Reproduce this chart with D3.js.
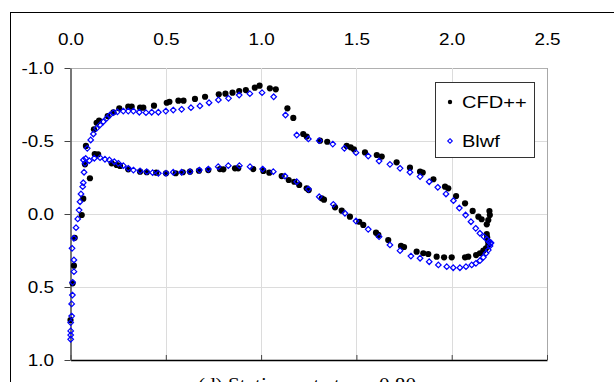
<!DOCTYPE html>
<html>
<head>
<meta charset="utf-8">
<script src="https://cdn.jsdelivr.net/npm/d3@7"></script>
<style>
  body { margin: 0; background: #fff; }
  svg { display: block; }
</style>
</head>
<body>
<div id="chart"></div>
<script>
// chordwise station x vs pressure coefficient Cp
const xTicks = [0, 0.5, 1.0, 1.5, 2.0, 2.5];
const yTicks = [-1.0, -0.5, 0.0, 0.5, 1.0];
const seriesNames = ["CFD++", "Blwf"];
const caption = "(d) Station cut at \u03b7 = 0.80";

const cfdLeading = [[0.000, 0.726], [0.011, 0.475], [0.018, 0.354], [0.022, 0.163], [0.059, 0.007],
  [0.067, -0.105], [0.102, -0.245], [0.076, -0.340]];
const cfdUpper = [[0.081, -0.466], [0.123, -0.580], [0.137, -0.625], [0.150, -0.640], [0.195, -0.671],
  [0.225, -0.697], [0.256, -0.724], [0.303, -0.735], [0.321, -0.735], [0.365, -0.728], [0.382, -0.728],
  [0.438, -0.742], [0.505, -0.762], [0.519, -0.769], [0.566, -0.776], [0.593, -0.776], [0.653, -0.788],
  [0.706, -0.803], [0.778, -0.820], [0.813, -0.824], [0.850, -0.831], [0.885, -0.842], [0.920, -0.849],
  [0.967, -0.865], [0.992, -0.879], [1.046, -0.861], [1.077, -0.854], [1.138, -0.724], [1.169, -0.658],
  [1.221, -0.548], [1.239, -0.530], [1.309, -0.502], [1.347, -0.495], [1.449, -0.466], [1.470, -0.457],
  [1.487, -0.443], [1.545, -0.422], [1.607, -0.404], [1.633, -0.393], [1.711, -0.354], [1.781, -0.317],
  [1.834, -0.290], [1.848, -0.284], [1.904, -0.238], [1.965, -0.187], [1.982, -0.176], [2.023, -0.123],
  [2.070, -0.073], [2.110, -0.021], [2.140, 0.018], [2.157, 0.036], [2.184, 0.071], [2.192, 0.041],
  [2.200, 0.007], [2.198, -0.020]];
const cfdLower = [[0.127, -0.411], [0.145, -0.409], [0.216, -0.347], [0.242, -0.336], [0.260, -0.329],
  [0.303, -0.306], [0.365, -0.290], [0.400, -0.286], [0.450, -0.283], [0.501, -0.279], [0.552, -0.279],
  [0.589, -0.286], [0.627, -0.290], [0.674, -0.297], [0.723, -0.301], [0.784, -0.308], [0.802, -0.306],
  [0.863, -0.313], [0.880, -0.313], [0.959, -0.308], [1.012, -0.295], [1.043, -0.283], [1.108, -0.260],
  [1.145, -0.233], [1.174, -0.221], [1.200, -0.199], [1.239, -0.176], [1.250, -0.164], [1.318, -0.108],
  [1.330, -0.098], [1.388, -0.046], [1.423, -0.023], [1.466, 0.018], [1.515, 0.053], [1.536, 0.075],
  [1.603, 0.128], [1.615, 0.143], [1.667, 0.178], [1.734, 0.219], [1.750, 0.226], [1.816, 0.258],
  [1.851, 0.269], [1.877, 0.274], [1.921, 0.292], [1.960, 0.297], [2.000, 0.297], [2.070, 0.297],
  [2.087, 0.292], [2.128, 0.281], [2.148, 0.269], [2.166, 0.251], [2.180, 0.235], [2.192, 0.212],
  [2.190, 0.185], [2.186, 0.160], [2.184, 0.137]];

const blwfLeading = [[0.001, 0.858], [0.001, 0.829], [0.001, 0.801], [0.001, 0.744], [0.006, 0.699],
  [0.006, 0.616], [0.010, 0.555], [0.011, 0.468], [0.018, 0.395], [0.018, 0.315], [0.008, 0.235],
  [0.018, 0.166], [0.029, 0.094], [0.038, 0.034], [0.045, -0.027], [0.050, -0.084], [0.055, -0.137],
  [0.064, -0.187], [0.067, -0.214], [0.071, -0.286], [0.076, -0.347], [0.068, -0.370], [0.080, -0.380]];
const blwfUpper = [[0.088, -0.450], [0.106, -0.507], [0.120, -0.548], [0.137, -0.587], [0.155, -0.610],
  [0.172, -0.632], [0.190, -0.655], [0.207, -0.678], [0.225, -0.694], [0.246, -0.700], [0.277, -0.705],
  [0.303, -0.705], [0.330, -0.705], [0.361, -0.697], [0.396, -0.694], [0.426, -0.697], [0.461, -0.697],
  [0.500, -0.705], [0.539, -0.712], [0.583, -0.717], [0.632, -0.728], [0.679, -0.740], [0.727, -0.762],
  [0.776, -0.781], [0.829, -0.792], [0.885, -0.815], [0.941, -0.824], [1.005, -0.831], [1.066, -0.803],
  [1.128, -0.678], [1.187, -0.541], [1.248, -0.514], [1.305, -0.502], [1.376, -0.479], [1.437, -0.450],
  [1.498, -0.420], [1.562, -0.397], [1.619, -0.363], [1.676, -0.340], [1.729, -0.313], [1.781, -0.286],
  [1.834, -0.256], [1.882, -0.221], [1.927, -0.183], [1.970, -0.137], [2.009, -0.091], [2.040, -0.041],
  [2.073, 0.007], [2.101, 0.053], [2.126, 0.098], [2.148, 0.132], [2.169, 0.155], [2.184, 0.173],
  [2.196, 0.190], [2.205, 0.201]];
const blwfLower = [[0.099, -0.365], [0.125, -0.382], [0.155, -0.386], [0.181, -0.375], [0.204, -0.370],
  [0.230, -0.358], [0.251, -0.347], [0.277, -0.331], [0.303, -0.313], [0.330, -0.301], [0.365, -0.295],
  [0.400, -0.290], [0.431, -0.283], [0.461, -0.279], [0.501, -0.279], [0.539, -0.286], [0.583, -0.286],
  [0.627, -0.290], [0.676, -0.301], [0.723, -0.308], [0.775, -0.324], [0.828, -0.331], [0.886, -0.331],
  [0.942, -0.324], [1.008, -0.308], [1.064, -0.290], [1.125, -0.260], [1.187, -0.221], [1.248, -0.171],
  [1.305, -0.118], [1.379, -0.066], [1.440, -0.005], [1.498, 0.048], [1.562, 0.105], [1.619, 0.155],
  [1.676, 0.212], [1.729, 0.251], [1.786, 0.288], [1.834, 0.303], [1.882, 0.327], [1.930, 0.349],
  [1.974, 0.361], [2.008, 0.368], [2.043, 0.368], [2.075, 0.361], [2.105, 0.349], [2.127, 0.338],
  [2.148, 0.320], [2.166, 0.297], [2.180, 0.269], [2.192, 0.247], [2.201, 0.219], [2.206, 0.197]];

const width = 614, height = 382;
const stretch = 1.18; // the original text is drawn a bit wide
const fmt = d => d.toFixed(1); // plain hyphen for negatives, like the original

const svg = d3.select("#chart").append("svg")
  .attr("width", width)
  .attr("height", height)
  .style("font-family", "'Liberation Sans', Arial, sans-serif");

const x = d3.scaleLinear().domain([0, 2.5]).range([70.5, 547]);
const y = d3.scaleLinear().domain([-1, 1]).range([68, 360]);

// outer chart frame, runs off the right and bottom
svg.append("rect")
  .attr("x", 10.5).attr("y", 12.5)
  .attr("width", 640).attr("height", 400)
  .attr("fill", "#fff").attr("stroke", "#000").attr("stroke-width", 1);

// grid
svg.append("g").selectAll("line")
  .data(yTicks.slice(0, -1))
  .join("line")
  .attr("x1", x(0)).attr("x2", x(2.5))
  .attr("y1", d => Math.round(y(d)) + 0.5).attr("y2", d => Math.round(y(d)) + 0.5)
  .attr("stroke", d => d === -1 ? "#b0b0b0" : "#dcdcdc");

svg.append("g").selectAll("line")
  .data(xTicks.slice(1))
  .join("line")
  .attr("x1", d => Math.round(x(d)) + 0.5).attr("x2", d => Math.round(x(d)) + 0.5)
  .attr("y1", y(-1)).attr("y2", y(1))
  .attr("stroke", d => d === 2.5 ? "#a8a8a8" : "#dcdcdc");

// bottom axis line, ticks pointing inward, no labels
const bottomAxis = svg.append("g")
  .attr("transform", `translate(0,${y(1)})`)
  .call(d3.axisBottom(x).tickValues(xTicks).tickSizeInner(-5).tickSizeOuter(0).tickFormat(""));
bottomAxis.select(".domain").attr("stroke", "#000").attr("stroke-width", 1.3);
bottomAxis.selectAll(".tick line").attr("stroke", "#444");

// x labels sit above the plot
const topAxis = svg.append("g")
  .attr("transform", `translate(0,${y(-1)})`)
  .call(d3.axisTop(x).tickValues(xTicks).tickSize(0).tickPadding(23).tickFormat(fmt));
topAxis.select(".domain").remove();
topAxis.selectAll("text")
  .attr("font-size", 16).attr("fill", "#000")
  .attr("transform", `scale(${stretch},1)`);

// y axis, reversed so suction is up
const leftAxis = svg.append("g")
  .attr("transform", `translate(${x(0)},0)`)
  .call(d3.axisLeft(y).tickValues(yTicks).tickSizeInner(6).tickSizeOuter(0).tickPadding(8)
    .tickFormat(fmt));
leftAxis.select(".domain").attr("stroke", "#555").attr("stroke-width", 1.6);
leftAxis.selectAll(".tick line").attr("stroke", "#444");
leftAxis.selectAll("text")
  .attr("font-size", 16).attr("fill", "#000").attr("dy", "0.36em")
  .attr("transform", `scale(${stretch},1)`);

const diamond = r => `M0,${-r}L${r},0L0,${r}L${-r},0Z`;

const cfd = [...cfdLeading, ...cfdUpper, ...cfdLower];
const blwf = [...blwfLeading, ...blwfUpper, ...blwfLower];

svg.append("g").selectAll("circle")
  .data(cfd)
  .join("circle")
  .attr("cx", d => x(d[0]))
  .attr("cy", d => y(d[1]))
  .attr("r", 3.1)
  .attr("fill", "#000");

svg.append("g").selectAll("path")
  .data(blwf)
  .join("path")
  .attr("transform", d => `translate(${x(d[0])},${y(d[1])})`)
  .attr("d", diamond(2.8))
  .attr("fill", "none")
  .attr("stroke", "#0000ff")
  .attr("stroke-width", 1.2);

// legend
const legend = svg.append("g");
legend.append("rect")
  .attr("x", 435.5).attr("y", 82.5)
  .attr("width", 99).attr("height", 75)
  .attr("fill", "#fff").attr("stroke", "#333").attr("stroke-width", 1);

legend.append("circle").attr("cx", 450).attr("cy", 102).attr("r", 2.2).attr("fill", "#000");
legend.append("path")
  .attr("transform", "translate(450,141)")
  .attr("d", diamond(2.3))
  .attr("fill", "none").attr("stroke", "#0000ff").attr("stroke-width", 1.1);

legend.selectAll("text")
  .data(seriesNames)
  .join("text")
  .attr("transform", (d, i) => `translate(462,${i === 0 ? 108 : 147}) scale(${stretch},1)`)
  .attr("font-size", 17)
  .attr("fill", "#000")
  .text(d => d);

// figure caption, mostly cut off at the bottom edge as in the original
svg.append("text")
  .attr("transform", `translate(307,391) scale(${stretch},1)`)
  .attr("text-anchor", "middle")
  .attr("font-family", "'Liberation Serif', 'Times New Roman', serif")
  .attr("font-size", 18)
  .attr("fill", "#000")
  .text(caption);
</script>
</body>
</html>
